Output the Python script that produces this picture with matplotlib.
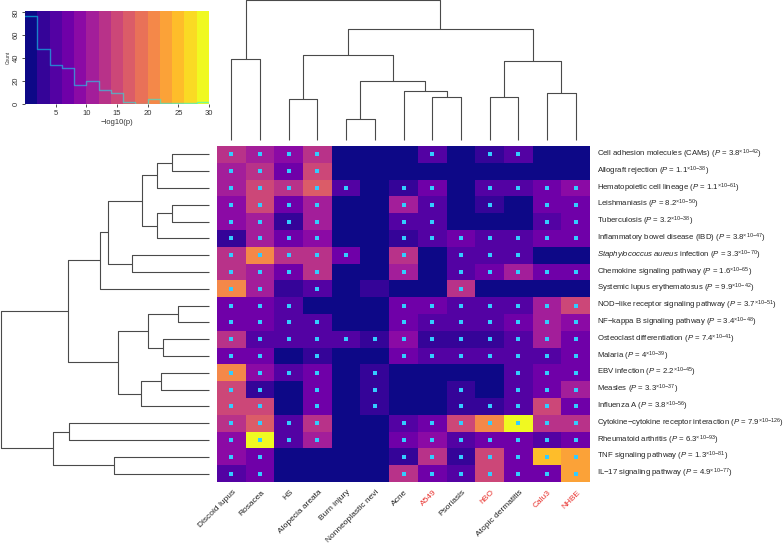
import numpy as np
import matplotlib
matplotlib.use('Agg')
import matplotlib.pyplot as plt
from matplotlib.colors import BoundaryNorm, ListedColormap

plt.rcParams['font.family'] = ['Liberation Sans', 'DejaVu Sans']
plt.rcParams['mathtext.fontset'] = 'custom'
plt.rcParams['mathtext.rm'] = 'Liberation Sans'
plt.rcParams['mathtext.it'] = 'Liberation Sans:italic'
plt.rcParams['mathtext.bf'] = 'Liberation Sans:bold'

# ---------------- data ----------------
columns = ['Discoid lupus', 'Rosacea', 'HS', 'Alopecia areata', 'Burn injury',
           'Nonneoplastic nevi', 'Acne', 'A549', 'Psoriasis', 'hBO',
           'Atopic dermatitis', 'Calu3', 'NHBE']
red_columns = ['A549', 'hBO', 'Calu3', 'NHBE']

pathways = ['Cell adhesion molecules (CAMs)', 'Allograft rejection',
            'Hematopoietic cell lineage', 'Leishmaniasis', 'Tuberculosis',
            'Inflammatory bowel disease (IBD)', r'$\it{Staphylococcus\ aureus}$ infection',
            'Chemokine signaling pathway', 'Systemic lupus erythematosus',
            'NOD\u2212like receptor signaling pathway', 'NF\u2212kappa B signaling pathway',
            'Osteoclast differentiation', 'Malaria', 'EBV infection', 'Measles',
            'Influenza A', 'Cytokine\u2212cytokine receptor interaction',
            'Rheumatoid arthritis', 'TNF signaling pathway', 'IL\u221217 signaling pathway']
p_mantissa = ['3.8', '1.1', '1.1', '8.2', '3.2', '3.8', '3.3', '1.6', '9.9', '3.7',
              '3.4', '7.4', '4', '2.2', '3.3', '3.8', '7.9', '6.3', '1.3', '4.9']
p_exponent = ['42', '38', '61', '50', '38', '47', '70', '65', '42', '51',
              '48', '41', '39', '45', '37', '56', '126', '93', '81', '77']

# -log10(p) per pathway (rows) x dataset (columns)
values = np.array([
    [13, 11, 8, 13, 0.5, 0.5, 0.5, 5, 0.5, 3, 4, 0.5, 0.5],
    [10, 13, 7, 14, 0.5, 0.5, 0.5, 0.5, 0.5, 0.5, 0.5, 0.5, 0.5],
    [11, 15, 12, 16.5, 4, 0.5, 3, 7, 0.5, 4, 4, 6, 9],
    [9, 15, 7, 10, 0.5, 0.5, 10, 4, 0.5, 3, 0.5, 7, 7],
    [8, 11, 3, 10, 0.5, 0.5, 4, 4, 0.5, 0.5, 0.5, 5, 7],
    [2.5, 11, 6, 9, 0.5, 0.5, 2.5, 4, 6, 5, 5, 7, 6],
    [13, 21, 13, 13, 6, 0.5, 13, 0.5, 4, 5, 5, 0.5, 1.5],
    [13, 10, 6, 13, 0.5, 0.5, 11, 0.5, 5, 6, 10, 6, 6],
    [21, 11, 2, 5, 0.5, 3, 0.5, 0.5, 12, 0.5, 0.5, 0.5, 0.5],
    [7, 7, 4, 0.5, 0.5, 0.5, 7, 6, 5, 5, 4, 11, 14.5],
    [7, 7, 4, 4, 0.5, 0.5, 7, 4, 4, 5, 6, 11, 8],
    [13, 5, 5, 4, 4, 2, 8, 3, 2, 3, 4, 10, 7],
    [7, 7, 0.5, 3, 0.5, 0.5, 7, 4, 4, 4, 5, 4, 7],
    [21, 8, 4, 6, 0.5, 3, 0.5, 0.5, 0.5, 0.5, 4, 6, 6],
    [15, 3, 0.5, 6, 0.5, 3, 0.5, 0.5, 3, 0.5, 4, 6, 10],
    [14, 15, 0.5, 7, 0.5, 3, 0.5, 0.5, 3, 3, 4, 14, 7],
    [12, 16.5, 4, 12, 0.5, 0.5, 4, 6, 15, 21, 29, 13, 13],
    [8, 29, 4, 10, 0.5, 0.5, 7, 9, 5, 6, 7, 4, 6],
    [8, 7, 0.5, 0.5, 0.5, 0.5, 3, 12, 3, 15, 6, 25, 22],
    [4, 7, 0.5, 0.5, 0.5, 1.5, 12, 6, 5, 15, 7, 7, 23],
])

# significance marks
dots = np.array([
    [1, 1, 1, 1, 0, 0, 0, 1, 0, 1, 1, 0, 0],
    [1, 1, 1, 1, 0, 0, 0, 0, 0, 0, 0, 0, 0],
    [1, 1, 1, 1, 1, 0, 1, 1, 0, 1, 1, 1, 1],
    [1, 1, 1, 1, 0, 0, 1, 1, 0, 1, 0, 1, 1],
    [1, 1, 1, 1, 0, 0, 1, 1, 0, 0, 0, 1, 1],
    [1, 1, 1, 1, 0, 0, 1, 1, 1, 1, 1, 1, 1],
    [1, 1, 1, 1, 1, 0, 1, 0, 1, 1, 1, 0, 0],
    [1, 1, 1, 1, 0, 0, 1, 0, 1, 1, 1, 1, 1],
    [1, 1, 0, 1, 0, 0, 0, 0, 1, 0, 0, 0, 0],
    [1, 1, 1, 0, 0, 0, 1, 1, 1, 1, 1, 1, 1],
    [1, 1, 1, 1, 0, 0, 1, 1, 1, 1, 1, 1, 1],
    [1, 1, 1, 1, 1, 1, 1, 1, 1, 1, 1, 1, 1],
    [1, 1, 0, 1, 0, 0, 1, 1, 1, 1, 1, 1, 1],
    [1, 1, 1, 1, 0, 1, 0, 0, 0, 0, 1, 1, 1],
    [1, 1, 0, 1, 0, 1, 0, 0, 1, 0, 1, 1, 1],
    [1, 1, 0, 1, 0, 1, 0, 0, 1, 1, 1, 1, 1],
    [1, 1, 1, 1, 0, 0, 1, 1, 1, 1, 1, 1, 1],
    [1, 1, 1, 1, 0, 0, 1, 1, 1, 1, 1, 1, 1],
    [1, 1, 0, 0, 0, 0, 1, 1, 1, 1, 1, 1, 1],
    [1, 1, 0, 0, 0, 0, 1, 1, 1, 1, 1, 1, 1],
])

# colour key histogram
breaks = np.arange(0, 31, 2)
hist_counts = [77, 48, 34, 31, 17, 20, 12, 10, 2, 0, 4, 1, 1, 1, 2]

# dendrograms: (merge height, left, right); leaves are row/column indices
row_tree = (208,
            (141,
             (109,
              (101,
               (67, (52, (37, 0, 1), 2), (52, (37, 3, 4), 5)),
               (77, 6, 7)),
              8),
             (91,
              (61, (31, 9, 10), (46, 11, 12)),
              (68, (48, 13, 14), 15))),
            (156, (140, 16, 17), (95, 18, 19)))
col_tree = (140,
            (81, 0, 1),
            (111,
             (85, (41, 2, 3), (59, (21, 4, 5), (49, 6, (43, 7, 8)))),
             (79, (43, 9, 10), (47, 11, 12))))

# ---------------- figure ----------------
W, H = 783, 544
fig = plt.figure(figsize=(W / 100, H / 100), dpi=100)


def ax_px(x0, y0, x1, y1):
    return fig.add_axes([x0 / W, 1 - y1 / H, (x1 - x0) / W, (y1 - y0) / H])


cmap = ListedColormap(plt.get_cmap('plasma')(np.linspace(0, 1, len(breaks) - 1)))
norm = BoundaryNorm(breaks, cmap.N)
text_color = '#222222'
line_color = '#4a4a4a'

# heatmap
nr, nc = values.shape
axh = ax_px(217, 146, 590, 482)
axh.pcolormesh(np.arange(nc + 1) - 0.5, np.arange(nr + 1) - 0.5, values,
               cmap=cmap, norm=norm)
yy, xx = np.nonzero(dots)
axh.scatter(xx, yy, marker='s', s=9, color='#33CCFF', linewidths=0, zorder=3)
axh.set_xlim(-0.5, nc - 0.5)
axh.set_ylim(nr - 0.5, -0.5)
axh.axis('off')

for i, name in enumerate(pathways):
    lab = name + r' ($P$ = ' + p_mantissa[i] + r'$^{\times 10{-}' + p_exponent[i] + r'}$)'
    axh.text(nc - 0.5 + 0.24, i, lab, ha='left', va='center', fontsize=5.6,
             color=text_color, clip_on=False)

for j, name in enumerate(columns):
    axh.text(j + 0.12, nr - 0.5 + 0.55, name, rotation=45, ha='right', va='center',
             rotation_mode='anchor', fontsize=6.0,
             color='#e8302c' if name in red_columns else text_color, clip_on=False)


def draw_tree(ax, node, orient):
    if isinstance(node, int):
        return float(node), 0.0
    h, a, b = node
    pa, ha_ = draw_tree(ax, a, orient)
    pb, hb = draw_tree(ax, b, orient)
    pos = [pa, pa, pb, pb]
    hts = [ha_, h, h, hb]
    if orient == 'top':
        ax.plot(pos, hts, color=line_color, lw=0.8, clip_on=False, solid_capstyle='butt')
    else:
        ax.plot(hts, pos, color=line_color, lw=0.8, clip_on=False, solid_capstyle='butt')
    return (pa + pb) / 2, h


# left dendrogram
axl = ax_px(0, 146, 210, 482)
draw_tree(axl, row_tree, 'left')
axl.set_xlim(209, -1)
axl.set_ylim(nr - 0.5, -0.5)
axl.axis('off')

# top dendrogram
axt = ax_px(217, 0, 590, 140)
draw_tree(axt, col_tree, 'top')
axt.set_xlim(-0.5, nc - 0.5)
axt.set_ylim(0, 140)
axt.axis('off')

# colour key with histogram
axk = ax_px(25, 11, 209, 104)
mids = (breaks[:-1] + breaks[1:]) / 2
axk.pcolormesh(breaks, [0, 81.2], mids[None, :], cmap=cmap, norm=norm)
axk.step(breaks, np.append(hist_counts, hist_counts[-1]), where='post',
         color='cyan', alpha=0.5, lw=1.0)
axk.set_xlim(0, 30)
axk.set_ylim(0, 81.2)
axk.set_xticks([5, 10, 15, 20, 25, 30])
axk.set_yticks([0, 20, 40, 60, 80])
axk.tick_params(labelsize=5.5, length=2.5, width=0.6, pad=1.5, colors='#333333')
for t in axk.get_yticklabels():
    t.set_rotation(90)
    t.set_va('center')
for s in axk.spines.values():
    s.set_visible(False)
axk.set_xlabel('\u2212log10(p)', fontsize=5.5, labelpad=1.5, color='#333333')
axk.set_ylabel('Count', fontsize=3.5, labelpad=1.5, color='#333333')

fig.savefig('out.png', dpi=100)
